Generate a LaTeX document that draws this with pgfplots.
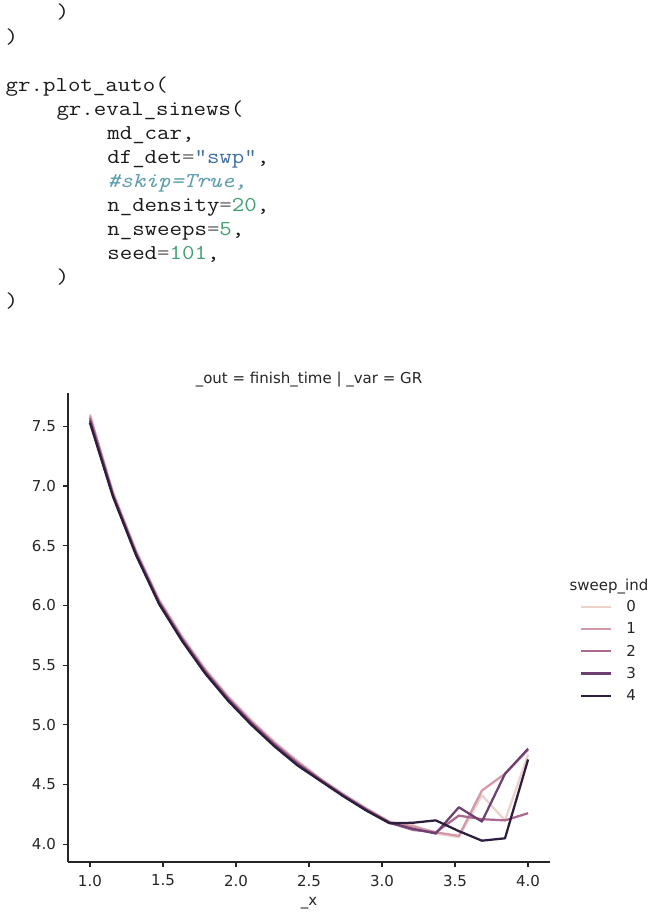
\documentclass[border=0pt]{standalone}
\usepackage{fontspec}
\usepackage{pgfplots}
\pgfplotsset{compat=1.18}
\usepackage{pgfplotstable}
\newfontfamily\dejavu{DejaVu Sans}

\definecolor{tx}{HTML}{262626}
\definecolor{codetx}{HTML}{1A1A1A}
\definecolor{cstr}{HTML}{4070A0}
\definecolor{ccom}{HTML}{60A0B0}
\definecolor{cnum}{HTML}{40A070}
\definecolor{cop}{HTML}{666666}
\definecolor{h0}{HTML}{EDD1CB}
\definecolor{h1}{HTML}{D499A7}
\definecolor{h2}{HTML}{AA678F}
\definecolor{h3}{HTML}{6E4071}
\definecolor{h4}{HTML}{2D1E3E}

\pgfplotstableread{
x s0 s1 s2 s3 s4
1.000 7.60 7.59 7.57 7.55 7.53
1.158 6.95 6.94 6.93 6.92 6.91
1.316 6.46 6.45 6.44 6.43 6.42
1.474 6.05 6.04 6.03 6.02 6.01
1.632 5.74 5.73 5.72 5.71 5.70
1.789 5.47 5.46 5.45 5.44 5.43
1.947 5.24 5.23 5.22 5.21 5.20
2.105 5.04 5.03 5.02 5.01 5.00
2.263 4.86 4.85 4.84 4.83 4.82
2.421 4.70 4.69 4.68 4.67 4.66
2.579 4.55 4.545 4.54 4.535 4.53
2.737 4.42 4.415 4.41 4.405 4.40
2.895 4.30 4.295 4.29 4.285 4.28
3.053 4.19 4.185 4.18 4.18 4.175
3.211 4.16 4.15 4.12 4.13 4.18
3.368 4.09 4.10 4.10 4.09 4.20
3.526 4.06 4.07 4.24 4.31 4.11
3.684 4.41 4.45 4.21 4.19 4.03
3.842 4.20 4.59 4.20 4.59 4.05
4.000 4.75 4.79 4.26 4.80 4.71
}\data

\newcommand\cl[3]{\node[anchor=base west,inner sep=0pt,xscale=1.143,transform shape,font=\ttfamily\fontsize{21.17}{24}\selectfont,text=codetx] at ({5.5pt+#1*12.7pt},{894pt-#2*24.08pt}) {#3};}
\newcommand\chfont{\dejavu\fontsize{15}{18}\selectfont}

\begin{document}
\begin{tikzpicture}
\useasboundingbox (0,0) rectangle (649pt,913pt);
\fill[white] (0,0) rectangle (649pt,913pt);
% code
\cl{4}{0}{)}
\cl{0}{1}{)}
\cl{0}{3}{gr.plot\_auto(}
\cl{4}{4}{gr.eval\_sinews(}
\cl{8}{5}{md\_car,}
\cl{8}{6}{df\_det\textcolor{cop}{=}\textcolor{cstr}{"swp"},}
\cl{8}{7}{\textcolor{ccom}{\itshape \#skip=True,}}
\cl{8}{8}{n\_density\textcolor{cop}{=}\textcolor{cnum}{20},}
\cl{8}{9}{n\_sweeps\textcolor{cop}{=}\textcolor{cnum}{5},}
\cl{8}{10}{seed\textcolor{cop}{=}\textcolor{cnum}{101},}
\cl{4}{11}{)}
\cl{0}{12}{)}
\begin{axis}[
  at={(68pt,51pt)}, anchor=south west, scale only axis,
  width=482pt, height=469pt, clip=false,
  xmin=0.85, xmax=4.15, ymin=3.8515, ymax=7.7785,
  axis x line*=bottom, axis y line*=left,
  axis line style={color=tx, line width=1.2pt},
  xtick={1,1.5,2,2.5,3,3.5,4}, ytick={4,4.5,5,5.5,6,6.5,7,7.5},
  tick align=outside, major tick length=5.25pt,
  tick style={color=tx, line width=1.2pt},
  ticklabel style={font=\chfont, text=tx},
  xticklabel style={inner sep=0pt, yshift=-7.5pt},
  yticklabel style={inner sep=0pt, xshift=-6.7pt},
  /pgf/number format/fixed, /pgf/number format/fixed zerofill,
  /pgf/number format/precision=1, /pgf/number format/assume math mode=true,
  legend style={at={(1.0622,0.5576)}, anchor=north west, draw=none, fill=none,
    inner sep=0pt, row sep=9.6pt, font=\chfont, text=tx, nodes={inner sep=0pt}},
  legend cell align=left,
  legend image code/.code={\draw[#1] (0pt,0pt) -- (30pt,0pt); \path (44pt,0pt);},
  every axis plot/.append style={line width=2.25pt, line join=round},
]
\addplot[color=h0] table[x=x,y=s0]{\data};
\addlegendentry{0}
\addplot[color=h1] table[x=x,y=s1]{\data};
\addlegendentry{1}
\addplot[color=h2] table[x=x,y=s2]{\data};
\addlegendentry{2}
\addplot[color=h3] table[x=x,y=s3]{\data};
\addlegendentry{3}
\addplot[color=h4] table[x=x,y=s4]{\data};
\addlegendentry{4}
\node[anchor=base, yshift=9pt, font=\chfont, text=tx, inner sep=0pt] at (rel axis cs:0.5,1) {\_out = finish\_time | \_var = GR};
\node[anchor=base, yshift=-44pt, font=\chfont, text=tx, inner sep=0pt] at (rel axis cs:0.5,0) {\_x};
\node[anchor=base, font=\chfont, text=tx, inner sep=0pt] at (rel axis cs:1.1224,0.5789) {sweep\_ind};
\end{axis}
\end{tikzpicture}
\end{document}
